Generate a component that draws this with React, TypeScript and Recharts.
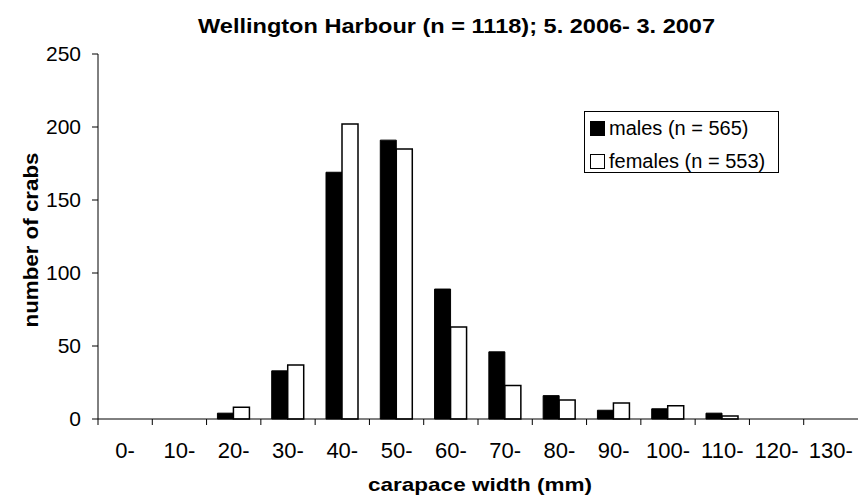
import React from 'react';
import { BarChart, Bar, XAxis, YAxis } from 'recharts';

// carapace width classes (mm) and counts per class
const CATEGORIES = ['0-', '10-', '20-', '30-', '40-', '50-', '60-', '70-', '80-', '90-', '100-', '110-', '120-', '130-'];
const MALES = [0, 0, 4, 33, 169, 191, 89, 46, 16, 6, 7, 4, 0, 0];
const FEMALES = [0, 0, 8, 37, 202, 185, 63, 23, 13, 11, 9, 2, 0, 0];
const Y_TICKS = [0, 50, 100, 150, 200, 250];

const SERIES_NAMES = { males: 'males (n = 565)', females: 'females (n = 553)' };

const W = 858;
const H = 499;
const FONT = '"Liberation Sans", Arial, Helvetica, sans-serif';

const data = CATEGORIES.map((c, i) => ({ range: c, males: MALES[i], females: FEMALES[i] }));

// tick line at the left edge of each band, label in the middle
const CategoryTick = (props: any) => {
  const { x, y, payload } = props;
  const half = payload && payload.offset ? payload.offset : (W - 98) / CATEGORIES.length / 2;
  return (
    <g>
      <line x1={x - half} x2={x - half} y1={y - 6} y2={y} stroke="#000" strokeWidth={1} />
      <text x={x} y={y + 33} textAnchor="middle" fontSize={22} fontFamily={FONT} fill="#000">
        {payload.value}
      </text>
    </g>
  );
};

const LegendBox = () => (
  <div
    style={{
      position: 'absolute',
      left: 584,
      top: 111,
      width: 195,
      height: 62,
      border: '1px solid #000',
      background: '#fff',
      boxSizing: 'border-box',
      fontFamily: FONT,
      fontSize: 20,
      color: '#000',
    }}
  >
    {[
      { label: SERIES_NAMES.males, fill: '#000' },
      { label: SERIES_NAMES.females, fill: '#fff' },
    ].map((item, i) => (
      <div key={item.label} style={{ position: 'absolute', left: 5, top: 5 + i * 33, height: 22, display: 'flex', alignItems: 'center' }}>
        <span style={{ display: 'inline-block', flex: 'none', width: 15, height: 15, background: item.fill, border: '1.5px solid #000', boxSizing: 'border-box', marginRight: 4 }} />
        <span style={{ whiteSpace: 'nowrap', lineHeight: '22px' }}>{item.label}</span>
      </div>
    ))}
  </div>
);

export default function App() {
  return (
    <div style={{ position: 'absolute', left: 0, top: 0, width: W, height: H, background: '#fff' }}>
      <BarChart
        width={W}
        height={H}
        data={data}
        margin={{ top: 54, right: 0, left: 0, bottom: 0 }}
        barCategoryGap="20%"
        barGap={0}
      >
        <XAxis
          dataKey="range"
          height={80}
          interval={0}
          tickLine={false}
          tickSize={6}
          tickMargin={0}
          axisLine={{ stroke: '#000' }}
          tick={<CategoryTick />}
        />
        <YAxis
          width={98}
          domain={[0, 250]}
          ticks={Y_TICKS}
          tickSize={6}
          tickMargin={11}
          axisLine={{ stroke: '#000' }}
          tickLine={{ stroke: '#000' }}
          tick={{ fontSize: 21, fill: '#000', fontFamily: FONT }}
        />
        <Bar dataKey="males" name={SERIES_NAMES.males} fill="#000" stroke="#000" strokeWidth={1} isAnimationActive={false} />
        <Bar dataKey="females" name={SERIES_NAMES.females} fill="#fff" stroke="#000" strokeWidth={1.5} isAnimationActive={false} />
      </BarChart>

      <LegendBox />

      <svg width={W} height={H} style={{ position: 'absolute', left: 0, top: 0, pointerEvents: 'none' }}>
        <text x={198} y={33} fontSize={21} fontWeight="bold" fontFamily={FONT} textLength={517} lengthAdjust="spacingAndGlyphs">
          Wellington Harbour (n = 1118); 5. 2006- 3. 2007
        </text>
        <text x={480} y={491} textAnchor="middle" fontSize={19} fontWeight="bold" fontFamily={FONT} textLength={224} lengthAdjust="spacingAndGlyphs">
          carapace width (mm)
        </text>
        <text
          x={38}
          y={240}
          transform="rotate(-90 38 240)"
          textAnchor="middle"
          fontSize={21}
          fontWeight="bold"
          fontFamily={FONT}
          textLength={175}
          lengthAdjust="spacingAndGlyphs"
        >
          number of crabs
        </text>
      </svg>
    </div>
  );
}
